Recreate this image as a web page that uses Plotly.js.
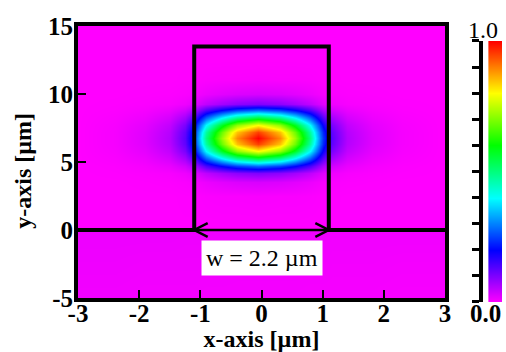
<!DOCTYPE html>
<html><head><meta charset="utf-8">
<script src="https://cdn.plot.ly/plotly-3.0.1.min.js"></script>
<style>html,body{margin:0;padding:0;background:#fff}</style>
</head><body><div id="chart" style="width:506px;height:352px"></div>
<script>
// grid of the field map (x in µm, y in µm)
const xGrid = [-3, -2.4, -1.9, -1.5, -1.25, -1.1, -0.9, -0.65, -0.4, -0.05, 0.3, 0.55, 0.8, 1.0, 1.15, 1.4, 1.8, 2.3, 3];
const yGrid = [-5, -2.5, -0.05, 0, 2.5, 3.5, 4.2, 4.7, 5.2, 5.8, 6.3, 6.75, 7.2, 7.7, 8.3, 8.8, 9.3, 10, 11, 12.5, 15];
// normalised field intensity (rows follow yGrid)
const fieldZ = [
  [0.01,0.01,0.009,0.009,0.009,0.009,0.008,0.008,0.008,0.008,0.008,0.008,0.007,0.007,0.007,0.007,0.007,0.006,0.006],
  [0.012,0.012,0.011,0.011,0.011,0.011,0.011,0.011,0.01,0.01,0.01,0.01,0.01,0.01,0.009,0.009,0.009,0.008,0.008],
  [0.014,0.014,0.014,0.014,0.013,0.013,0.013,0.013,0.013,0.013,0.012,0.012,0.012,0.012,0.011,0.011,0.011,0.011,0.011],
  [0,0,0,0,0,0,0,0,0,0,0,0,0,0,0,0,0,0,0],
  [0,0,0,0,0.001,0.001,0.003,0.004,0.004,0.005,0.004,0.004,0.003,0.001,0.001,0,0,0,0],
  [0,0,0.001,0.002,0.004,0.007,0.015,0.022,0.027,0.03,0.027,0.022,0.015,0.007,0.004,0.002,0.001,0,0],
  [0,0.001,0.003,0.006,0.013,0.024,0.05,0.072,0.089,0.1,0.089,0.072,0.05,0.024,0.013,0.006,0.003,0.001,0],
  [0,0.002,0.007,0.017,0.036,0.067,0.14,0.202,0.249,0.28,0.249,0.202,0.14,0.067,0.036,0.017,0.007,0.002,0],
  [0,0.004,0.013,0.032,0.069,0.127,0.265,0.382,0.472,0.53,0.472,0.382,0.265,0.127,0.069,0.032,0.013,0.004,0],
  [0,0.006,0.02,0.048,0.104,0.192,0.4,0.576,0.712,0.8,0.712,0.576,0.4,0.192,0.104,0.048,0.02,0.006,0],
  [0,0.007,0.024,0.057,0.124,0.228,0.475,0.684,0.846,0.95,0.846,0.684,0.475,0.228,0.124,0.057,0.024,0.007,0],
  [0,0.007,0.025,0.06,0.13,0.24,0.5,0.72,0.89,1,0.89,0.72,0.5,0.24,0.13,0.06,0.025,0.007,0],
  [0,0.007,0.024,0.057,0.124,0.228,0.475,0.684,0.846,0.95,0.846,0.684,0.475,0.228,0.124,0.057,0.024,0.007,0],
  [0,0.006,0.02,0.048,0.104,0.192,0.4,0.576,0.712,0.8,0.712,0.576,0.4,0.192,0.104,0.048,0.02,0.006,0],
  [0,0.004,0.013,0.032,0.069,0.127,0.265,0.382,0.472,0.53,0.472,0.382,0.265,0.127,0.069,0.032,0.013,0.004,0],
  [0,0.002,0.007,0.017,0.036,0.067,0.14,0.202,0.249,0.28,0.249,0.202,0.14,0.067,0.036,0.017,0.007,0.002,0],
  [0,0.001,0.003,0.006,0.013,0.024,0.05,0.072,0.089,0.1,0.089,0.072,0.05,0.024,0.013,0.006,0.003,0.001,0],
  [0,0,0.001,0.002,0.004,0.007,0.015,0.022,0.027,0.03,0.027,0.022,0.015,0.007,0.004,0.002,0.001,0,0],
  [0,0,0,0,0.001,0.001,0.003,0.004,0.004,0.005,0.004,0.004,0.003,0.001,0.001,0,0,0,0],
  [0,0,0,0,0,0,0,0,0,0,0,0,0,0,0,0,0,0,0],
  [0,0,0,0,0,0,0,0,0,0,0,0,0,0,0,0,0,0,0]
];
// waveguide outline
const wgX = [-3, -1.1, -1.1, 1.1, 1.1, 3];
const wgY = [0, 0, 13.5, 13.5, 0, 0];
// width arrow and its label
const arrowX = [-1.1, 1.1];
const arrowY = [0, 0];
const widthLabel = 'w = 2.2 µm';
const labelX = 0, labelY = -2.05;
// ticks and titles
const xTickVals = [-3, -2, -1, 0, 1, 2, 3];
const xTickText = ['-3', '-2', '-1', '0', '1', '2', '3'];
const yTickVals = [-5, 0, 5, 10, 15];
const yTickText = ['-5', '0', '5', '10', '15'];
const xTitle = 'x-axis [µm]', yTitle = 'y-axis [µm]';
const cbVals = [0, 0.1, 0.2, 0.3, 0.4, 0.5, 0.6, 0.7, 0.8, 0.9, 1.0];
const cbTopLabel = '1.0', cbBottomLabel = '0.0';

const cscale = [[0,'#ff00ff'],[0.2,'#0000ff'],[0.4,'#00ffff'],[0.6,'#00ff00'],[0.8,'#ffff00'],[1,'#ff0000']];
const serif = 'Liberation Serif, Times New Roman, serif';

const traces = [
  {type:'heatmap', x:xGrid, y:yGrid, z:fieldZ, zsmooth:'best', zmin:0, zmax:1,
   colorscale:cscale, showscale:false, hoverinfo:'skip'},
  {type:'scatter', mode:'lines', x:wgX, y:wgY, line:{color:'black', width:4}, hoverinfo:'skip', showlegend:false},
  {type:'scatter', mode:'lines', x:arrowX, y:arrowY, line:{color:'black', width:2.5}, hoverinfo:'skip', showlegend:false},
  {type:'heatmap', x:[0,1], y:cbVals, z:cbVals.map(v=>[v,v]), zsmooth:'best', zmin:0, zmax:1,
   colorscale:cscale, showscale:false, xaxis:'x2', yaxis:'y2', hoverinfo:'skip'}
];

// open chevron heads for the width arrow
const hx = 0.22, hy = 0.5;
const shapes = [
  {type:'path', xref:'x', yref:'y', path:`M ${arrowX[0]+hx} ${arrowY[0]+hy} L ${arrowX[0]} ${arrowY[0]} L ${arrowX[0]+hx} ${arrowY[0]-hy}`, line:{color:'black', width:2.5}},
  {type:'path', xref:'x', yref:'y', path:`M ${arrowX[1]-hx} ${arrowY[1]+hy} L ${arrowX[1]} ${arrowY[1]} L ${arrowX[1]-hx} ${arrowY[1]-hy}`, line:{color:'black', width:2.5}}
];

const tickFont = {family:serif, size:25, color:'black', weight:'bold'};
const layout = {
  width:506, height:352,
  margin:{l:78, r:4, t:26, b:50},
  paper_bgcolor:'white', plot_bgcolor:'white',
  showlegend:false,
  xaxis:{domain:[0, 0.8656], range:[-3,3], tickvals:xTickVals, ticktext:xTickText,
    ticks:'inside', ticklen:8, tickwidth:2, tickcolor:'black', ticklabelstandoff:-10,
    showline:true, linewidth:4, linecolor:'black', mirror:true,
    showgrid:false, zeroline:false, tickfont:tickFont, automargin:false,
    title:{text:xTitle, font:{family:serif, size:24, color:'black', weight:'bold'}, standoff:0}},
  yaxis:{domain:[0.0145, 1], range:[-5,15], tickvals:yTickVals, ticktext:yTickText,
    ticks:'inside', ticklen:8, tickwidth:2, tickcolor:'black', ticklabelstandoff:-4,
    showline:true, linewidth:4, linecolor:'black', mirror:true,
    showgrid:false, zeroline:false, tickfont:tickFont, automargin:false},
  xaxis2:{domain:[0.9675, 1.0], anchor:'y2', range:[0,1], visible:false, fixedrange:true},
  yaxis2:{domain:[0, 0.9457], anchor:'free', position:0.9505, side:'left', range:[0,1],
    tickvals:cbVals, ticks:'outside', ticklen:7, tickwidth:3, tickcolor:'black',
    showticklabels:false, showline:true, linewidth:4, linecolor:'black',
    showgrid:false, zeroline:false, fixedrange:true},
  shapes:shapes,
  annotations:[
    {x:labelX, y:labelY, xref:'x', yref:'y', text:widthLabel, showarrow:false,
     bgcolor:'white', borderpad:4, font:{family:serif, size:24, color:'black'}},
    {x:-0.13, y:0.475, xref:'paper', yref:'paper', xanchor:'center', yanchor:'middle', textangle:-90,
     text:yTitle, showarrow:false, font:{family:serif, size:24, color:'black', weight:'bold'}},
    {x:0.955, y:0.986, xref:'paper', yref:'paper', xanchor:'center', yanchor:'middle', text:cbTopLabel, showarrow:false,
     font:{family:serif, size:24, color:'black'}},
    {x:0.96, y:-0.04, xref:'paper', yref:'paper', xanchor:'center', yanchor:'middle', text:cbBottomLabel, showarrow:false,
     font:{family:serif, size:25, color:'black', weight:'bold'}}
  ]
};
Plotly.newPlot('chart', traces, layout, {displayModeBar:false, staticPlot:true});
</script></body></html>
